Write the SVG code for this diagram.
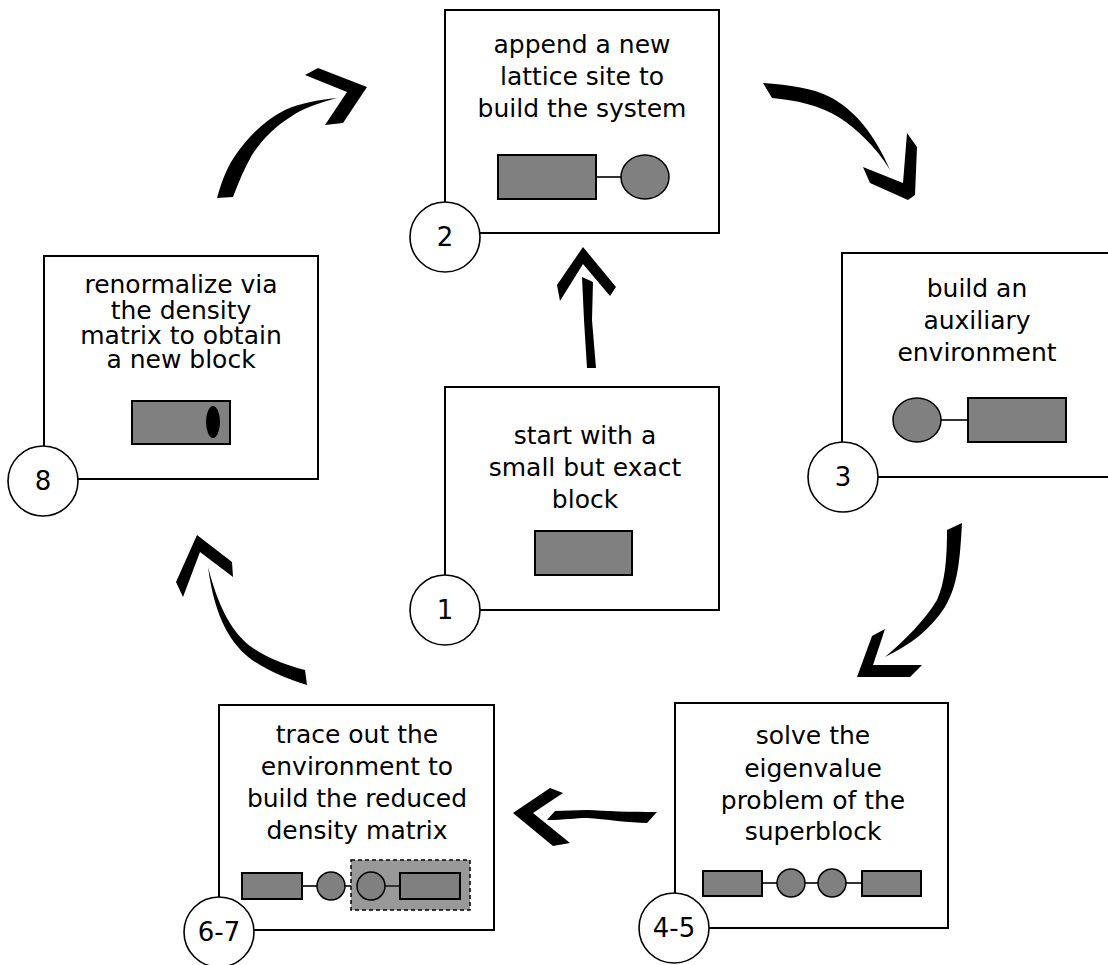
<svg xmlns="http://www.w3.org/2000/svg" width="1108" height="965" viewBox="0 0 1108 965">
<style>
.box{fill:#fff;stroke:#000;stroke-width:2}
.num{fill:#fff;stroke:#000;stroke-width:1.6}
.g{fill:#808080;stroke:#000;stroke-width:2}
.gc{fill:#808080;stroke:#000;stroke-width:1.5}
.ln{stroke:#333;stroke-width:2}
.t{font-family:"DejaVu Sans",sans-serif;font-size:25px;text-anchor:middle;fill:#000}
.n{font-family:"DejaVu Sans",sans-serif;font-size:26px;text-anchor:middle;fill:#000}
.arr{fill:#000}
</style>
<rect width="1108" height="965" fill="#fff"/>
<g id="connectors">
<path class="arr" d="M582,277 L593,282 L592,320 L596,368 L587,368 L584,320 Z"/>
<path class="arr" d="M583,247 L616,287 L610,296 L583,264 L560,301 L557,285 Z"/>
<path class="arr" d="M763,83 C790,85 813,88 830,97 C855,110 875,135 890,170 C875,145 855,128 840,118 C820,105 795,100 772,98 Z"/>
<path class="arr" d="M907,133 L917,147 L915,195 L908,200 L870,183 L863,167 L903,183 Z"/>
<path class="arr" d="M947,530 L962,523 C960,560 958,585 945,607 C930,630 910,645 885,657 C905,640 925,620 937,600 C945,582 947,560 947,530 Z"/>
<path class="arr" d="M885,629 L873,665 L922,665 L910,677 L857,677 L872,636 Z"/>
<path class="arr" d="M657,812 C630,812 605,811 587,810 C575,810 565,811 555,811 L547,820 C565,820 575,818 587,818 C605,819 630,823 647,823 Z"/>
<path class="arr" d="M513,813 L550,788 L563,793 L533,813 L570,843 L553,846 Z"/>
<path class="arr" d="M307,685 C290,680 270,672 252,660 C232,645 215,620 208,567 C218,605 230,630 250,646 C265,657 285,665 305,670 Z"/>
<path class="arr" d="M197,535 L232,562 L233,577 L200,552 L183,597 L176,582 Z"/>
<path class="arr" d="M217,198 C222,180 228,165 237,153 C250,135 265,120 285,110 C300,103 318,100 337,98 C315,104 300,110 292,116 C274,127 262,140 252,155 C245,167 239,181 233,197 Z"/>
<path class="arr" d="M367,87 L343,123 L325,125 L347,92 L305,75 L318,68 Z"/>
</g>
<g id="node2">
<rect class="box" x="445" y="10" width="274" height="223"/>
<text class="t" x="582" y="53">append a new</text>
<text class="t" x="582" y="85">lattice site to</text>
<text class="t" x="582" y="117">build the system</text>
<line class="ln" x1="596" y1="177" x2="622" y2="177"/>
<rect class="g" x="498" y="155" width="98" height="44"/>
<ellipse class="gc" cx="645" cy="177" rx="24" ry="22"/>
<circle class="num" cx="445" cy="237" r="35"/>
<text class="n" x="445" y="246">2</text>
</g>
<g id="node1">
<rect class="box" x="445" y="387" width="274" height="223"/>
<text class="t" x="585" y="444">start with a</text>
<text class="t" x="585" y="476">small but exact</text>
<text class="t" x="585" y="508">block</text>
<rect class="g" x="535" y="531" width="97" height="44"/>
<circle class="num" cx="445" cy="610" r="35"/>
<text class="n" x="445" y="619">1</text>
</g>
<g id="node3">
<rect class="box" x="842" y="253" width="280" height="224"/>
<text class="t" x="977" y="297">build an</text>
<text class="t" x="977" y="329">auxiliary</text>
<text class="t" x="977" y="361">environment</text>
<line class="ln" x1="941" y1="420" x2="968" y2="420"/>
<ellipse class="gc" cx="917" cy="420" rx="24" ry="22"/>
<rect class="g" x="968" y="398" width="98" height="44"/>
<circle class="num" cx="843" cy="477" r="35"/>
<text class="n" x="843" y="486">3</text>
</g>
<g id="node8">
<rect class="box" x="44" y="256" width="274" height="223"/>
<text class="t" x="181" y="293">renormalize via</text>
<text class="t" x="181" y="319">the density</text>
<text class="t" x="181" y="344">matrix to obtain</text>
<text class="t" x="181" y="368">a new block</text>
<rect class="g" x="132" y="401" width="98" height="43"/>
<ellipse cx="213" cy="422" rx="7" ry="16" fill="#000"/>
<circle class="num" cx="43" cy="481" r="35"/>
<text class="n" x="43" y="490">8</text>
</g>
<g id="node45">
<rect class="box" x="675" y="703" width="273" height="225"/>
<text class="t" x="813" y="744">solve the</text>
<text class="t" x="813" y="777">eigenvalue</text>
<text class="t" x="813" y="809">problem of the</text>
<text class="t" x="813" y="840">superblock</text>
<line class="ln" x1="762" y1="883" x2="862" y2="883"/>
<rect class="g" x="703" y="871" width="59" height="25"/>
<circle class="gc" cx="791" cy="883" r="14"/>
<circle class="gc" cx="832" cy="883" r="14"/>
<rect class="g" x="862" y="871" width="59" height="25"/>
<circle class="num" cx="674" cy="928" r="35"/>
<text class="n" x="674" y="937">4-5</text>
</g>
<g id="node67">
<rect class="box" x="219" y="705" width="275" height="225"/>
<text class="t" x="357" y="743">trace out the</text>
<text class="t" x="357" y="775">environment to</text>
<text class="t" x="357" y="807">build the reduced</text>
<text class="t" x="357" y="839">density matrix</text>
<line class="ln" x1="302" y1="886" x2="400" y2="886"/>
<rect x="351" y="860" width="119" height="50" fill="#999" stroke="#000" stroke-width="1.5" stroke-dasharray="4,3"/>
<line class="ln" x1="385" y1="886" x2="400" y2="886"/>
<rect class="g" x="242" y="873" width="60" height="26"/>
<circle class="gc" cx="331" cy="886" r="14"/>
<circle class="gc" cx="371" cy="886" r="14"/>
<rect class="g" x="400" y="873" width="60" height="26"/>
<circle class="num" cx="219" cy="932" r="35"/>
<text class="n" x="219" y="941">6-7</text>
</g>
</svg>
